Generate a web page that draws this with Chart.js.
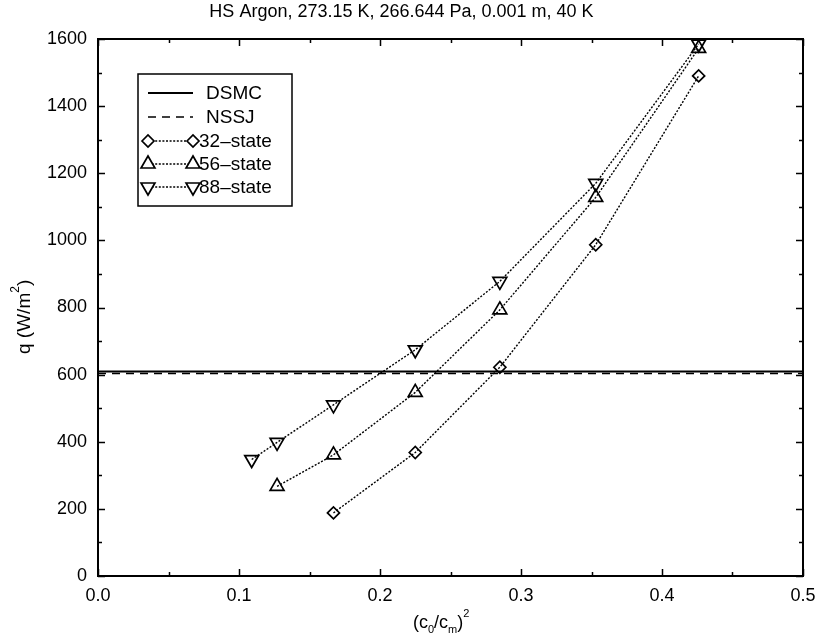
<!DOCTYPE html>
<html>
<head>
<meta charset="utf-8">
<script src="https://cdn.jsdelivr.net/npm/chart.js@4/dist/chart.umd.min.js"></script>
<style>
  html, body { margin: 0; padding: 0; background: #fff; }
  #wrap { width: 817px; height: 634px; }
</style>
</head>
<body>
<div id="wrap"><canvas id="chart" width="817" height="634"></canvas></div>
<script>
// values
var x32 = [0.167, 0.225, 0.285, 0.353, 0.426];
var q32 = [188, 368, 622, 987, 1490];
var x56 = [0.127, 0.167, 0.225, 0.285, 0.353, 0.426];
var q56 = [267, 361, 547, 793, 1128, 1572];
var x88 = [0.109, 0.127, 0.167, 0.225, 0.285, 0.353, 0.426];
var q88 = [347, 398, 510, 674, 878, 1170, 1585];
var qDSMC = 609;
var qNSSJ = 603;
var xRange = [0, 0.5];
var yRange = [0, 1600];
var xMinor = 0.05;
var yMinor = 100;

var FONT = "'Liberation Sans', Arial, sans-serif";

function pts(xs, ys) {
  return xs.map(function (x, i) { return { x: x, y: ys[i] }; });
}

// frame, inward ticks, axis titles with sub/superscripts, legend box
var framePlugin = {
  id: "frame",
  afterDatasetsDraw: function (chart) {
    var ctx = chart.ctx;
    var a = chart.chartArea;
    var sx = chart.scales.x;
    var sy = chart.scales.y;
    ctx.save();
    ctx.strokeStyle = "#000";
    ctx.lineWidth = 2;
    ctx.strokeRect(a.left, a.top, a.right - a.left, a.bottom - a.top);

    ctx.lineWidth = 1.5;
    ctx.beginPath();
    var v, p, len;
    for (v = xRange[0]; v <= xRange[1] + 1e-9; v += xMinor) {
      p = Math.round(sx.getPixelForValue(v)) + 0.5;
      len = Math.abs(v / 0.1 - Math.round(v / 0.1)) < 1e-6 ? 7 : 4;
      ctx.moveTo(p, a.bottom); ctx.lineTo(p, a.bottom - len);
      ctx.moveTo(p, a.top); ctx.lineTo(p, a.top + len);
    }
    for (v = yRange[0]; v <= yRange[1]; v += yMinor) {
      p = Math.round(sy.getPixelForValue(v)) + 0.5;
      len = v % 200 === 0 ? 7 : 4;
      ctx.moveTo(a.left, p); ctx.lineTo(a.left + len, p);
      ctx.moveTo(a.right, p); ctx.lineTo(a.right - len, p);
    }
    ctx.stroke();

    ctx.fillStyle = "#000";
    ctx.textBaseline = "alphabetic";
    ctx.textAlign = "left";
    var bx = 413, by = 628;
    var parts = [["(c", 18, 0], ["0", 11, 5], ["/c", 18, 0], ["m", 11, 5], [")", 18, 0], ["2", 11, -11]];
    parts.forEach(function (pp) {
      ctx.font = pp[1] + "px " + FONT;
      ctx.fillText(pp[0], bx, by + pp[2]);
      bx += ctx.measureText(pp[0]).width;
    });

    ctx.save();
    ctx.translate(30, 354);
    ctx.rotate(-Math.PI / 2);
    var tx = 0;
    var yparts = [["q (W/m", 19, 0], ["2", 12, -11], [")", 19, 0]];
    yparts.forEach(function (pp) {
      ctx.font = pp[1] + "px " + FONT;
      ctx.fillText(pp[0], tx, pp[2]);
      tx += ctx.measureText(pp[0]).width;
    });
    ctx.restore();

    ctx.lineWidth = 1.5;
    ctx.strokeStyle = "#000";
    ctx.fillStyle = "#fff";
    ctx.fillRect(138, 74, 154, 132);
    ctx.strokeRect(138, 74, 154, 132);
    var rows = chart.data.datasets;
    var rowY = [93, 117, 141, 164, 187];
    ctx.font = "19px " + FONT;
    ctx.textBaseline = "middle";
    rows.forEach(function (ds, i) {
      var y = rowY[i];
      ctx.save();
      ctx.strokeStyle = "#000";
      ctx.lineWidth = ds.borderWidth;
      ctx.setLineDash(ds.borderDash || []);
      ctx.beginPath();
      ctx.moveTo(148, y); ctx.lineTo(193, y);
      ctx.stroke();
      ctx.restore();
      if (ds.pointRadius > 0) {
        [148, 193].forEach(function (mx) {
          ctx.save();
          ctx.fillStyle = "#fff";
          ctx.strokeStyle = "#000";
          ctx.lineWidth = ds.pointBorderWidth;
          Chart.helpers.drawPoint(ctx, {
            pointStyle: ds.pointStyle,
            rotation: ds.pointRotation || 0,
            radius: ds.pointRadius,
            borderWidth: ds.pointBorderWidth
          }, mx, y);
          ctx.restore();
        });
      }
      ctx.fillStyle = "#000";
      ctx.fillText(ds.label, ds.pointRadius > 0 ? 199 : 206, y + 1);
    });
    ctx.restore();
  }
};

var lineDs = function (label, xs, ys, style, radius, rot) {
  return {
    label: label,
    data: pts(xs, ys),
    showLine: true,
    borderColor: "#000",
    borderWidth: 1.4,
    borderDash: [2, 1.6],
    pointStyle: style,
    pointRotation: rot,
    pointRadius: radius,
    pointHoverRadius: radius,
    pointBorderWidth: 1.7,
    pointBackgroundColor: "rgba(255,255,255,0)",
    pointBorderColor: "#000",
    fill: false
  };
};

function noPad(s) {
  s.paddingLeft = 0;
  s.paddingRight = 0;
  s.paddingTop = 0;
  s.paddingBottom = 0;
}

new Chart(document.getElementById("chart").getContext("2d"), {
  type: "scatter",
  data: {
    datasets: [
      {
        label: "DSMC",
        data: pts(xRange, [qDSMC, qDSMC]),
        showLine: true,
        borderColor: "#000",
        borderWidth: 2,
        pointRadius: 0,
        fill: false
      },
      {
        label: "NSSJ",
        data: pts(xRange, [qNSSJ, qNSSJ]),
        showLine: true,
        borderColor: "#000",
        borderWidth: 1.5,
        borderDash: [8, 6],
        pointRadius: 0,
        fill: false
      },
      lineDs("32\u2013state", x32, q32, "rectRot", 6, 0),
      lineDs("56\u2013state", x56, q56, "triangle", 8, 0),
      lineDs("88\u2013state", x88, q88, "triangle", 8, 180)
    ]
  },
  options: {
    responsive: false,
    animation: false,
    layout: { padding: { left: 0, right: 14, top: 0, bottom: 0 } },
    plugins: {
      legend: { display: false },
      tooltip: { enabled: false },
      title: {
        display: true,
        text: "HS Argon, 273.15 K, 266.644 Pa, 0.001 m, 40 K",
        color: "#000",
        font: { family: FONT, size: 18, weight: "normal" },
        padding: { top: 1, bottom: 16.4 }
      }
    },
    scales: {
      x: {
        type: "linear",
        min: xRange[0],
        max: xRange[1],
        grid: { display: false, drawTicks: false },
        border: { display: false },
        ticks: {
          stepSize: 0.1,
          padding: 9,
          color: "#000",
          font: { family: FONT, size: 18 },
          maxRotation: 0,
          callback: function (v) { return Number(v).toFixed(1); }
        },
        afterFit: function (s) { s.height = 58; noPad(s); }
      },
      y: {
        type: "linear",
        min: yRange[0],
        max: yRange[1],
        grid: { display: false, drawTicks: false },
        border: { display: false },
        ticks: {
          stepSize: 200,
          padding: 11,
          color: "#000",
          font: { family: FONT, size: 18 },
          callback: function (v) { return String(v); }
        },
        afterFit: function (s) { s.width = 98; noPad(s); }
      }
    }
  },
  plugins: [framePlugin]
});
</script>
</body>
</html>
